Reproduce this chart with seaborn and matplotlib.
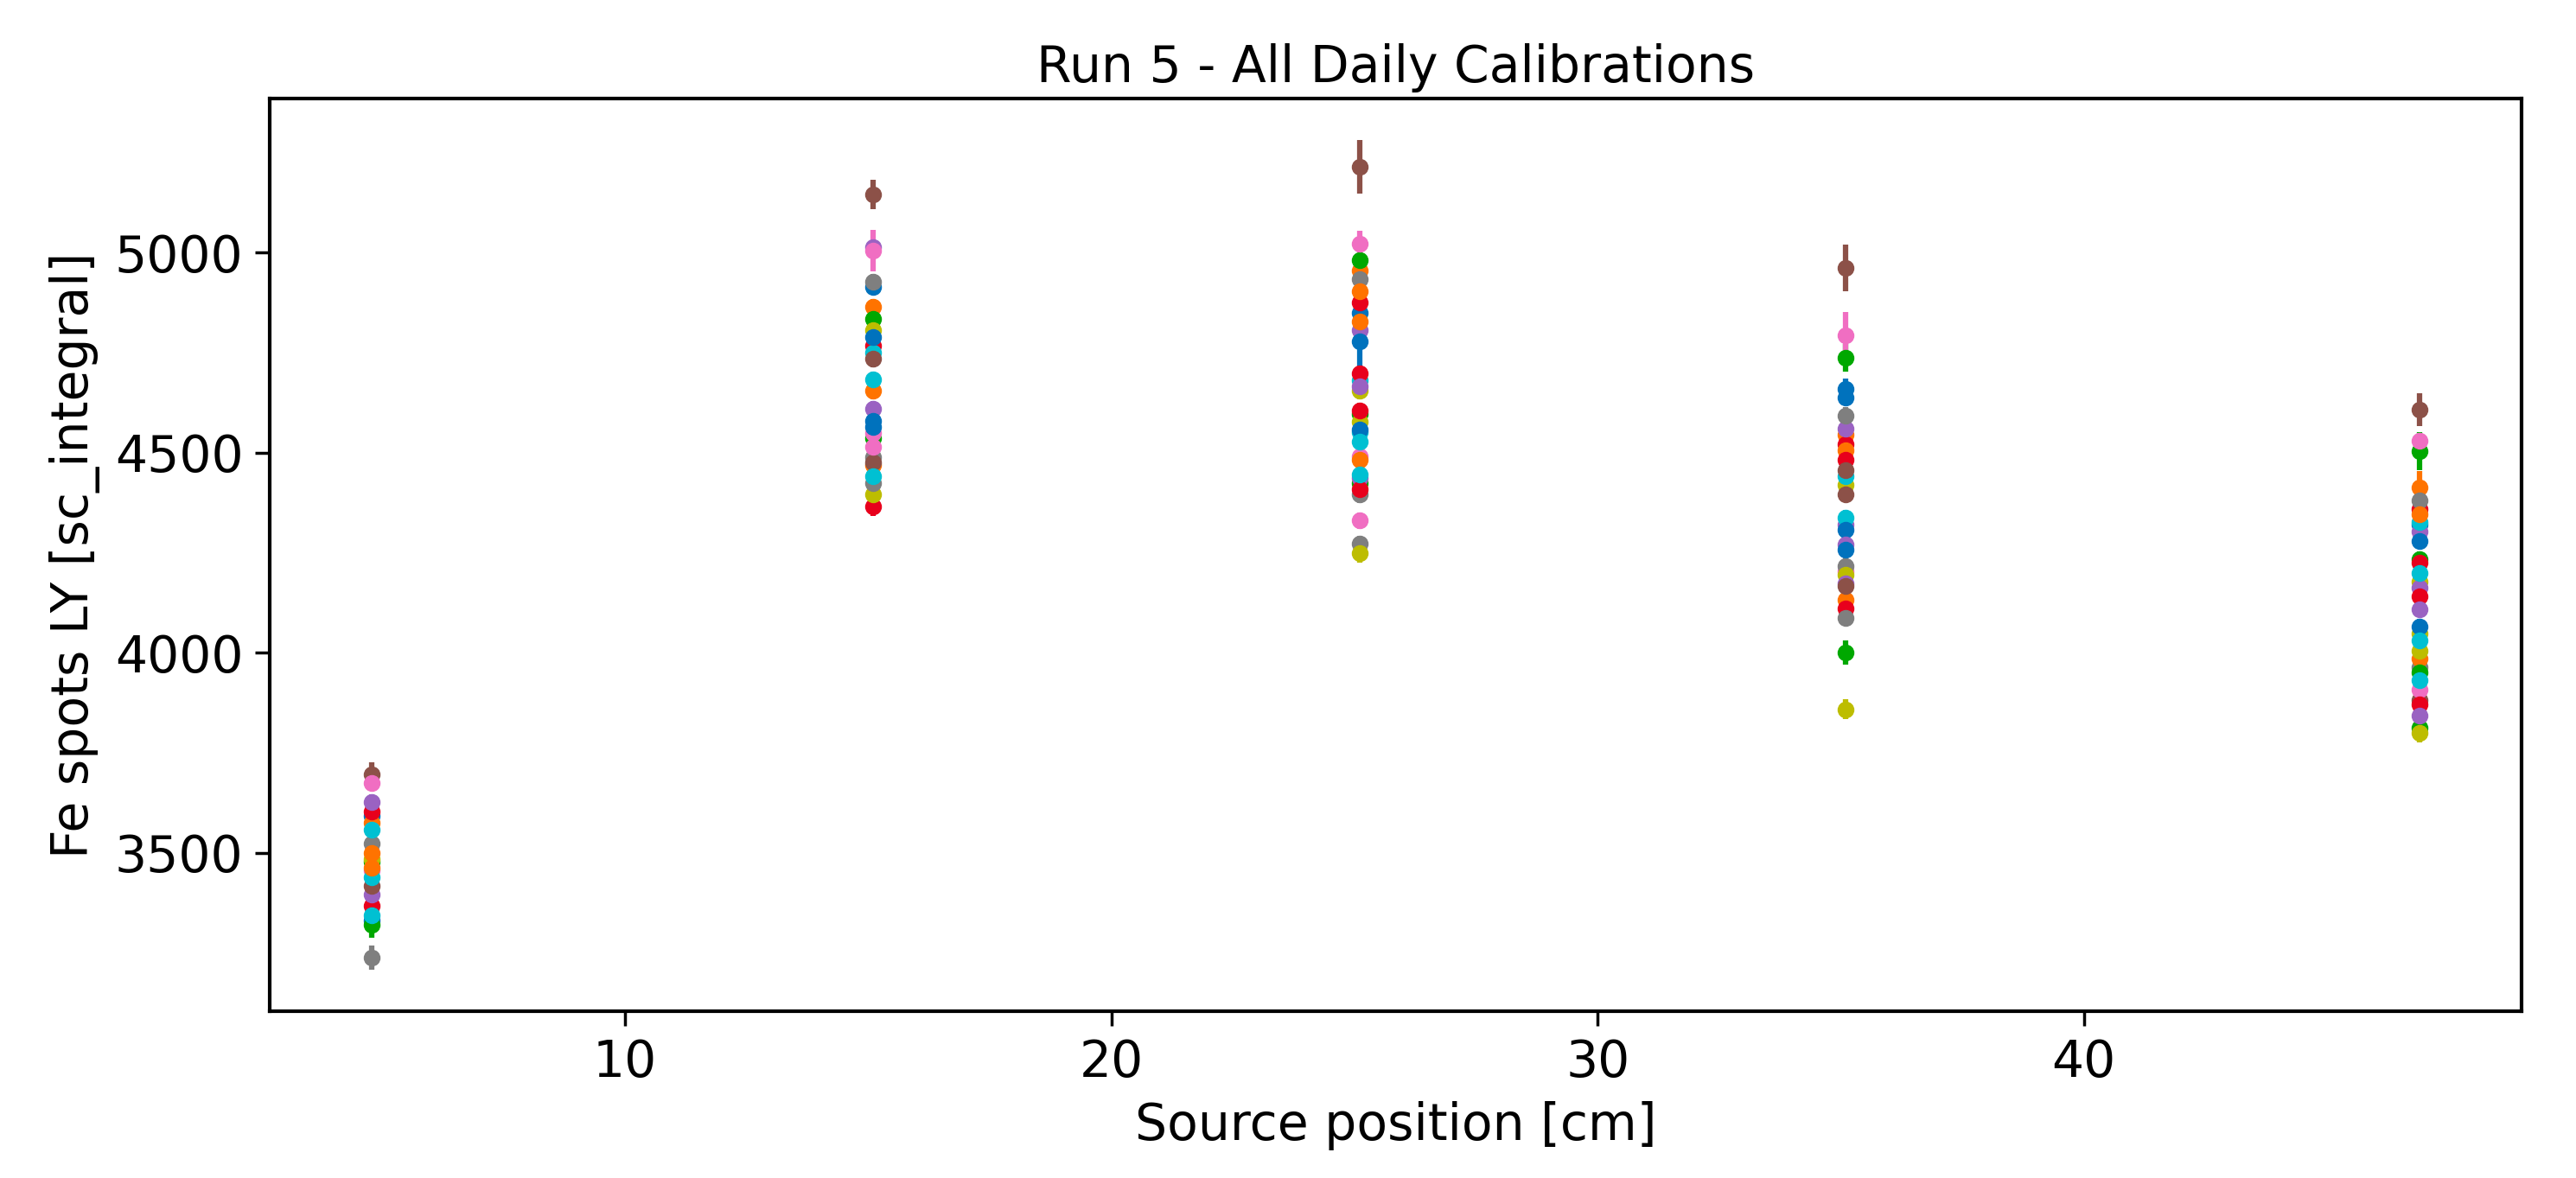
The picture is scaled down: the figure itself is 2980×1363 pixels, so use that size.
import pandas as pd
import matplotlib
matplotlib.use("Agg")
import matplotlib.pyplot as plt
import seaborn as sns

# source positions [cm]
pos_cm = [4.8, 15.1, 25.1, 35.1, 46.9]

# LY per calibration day at each position (day index -> colour in the cycle)
day_p1 = [5, 15, 6, 16, 4, 14, 3, 13, 0, 10, 1, 11, 21, 9, 19, 29, 7, 17, 8, 2, 12]
ly_p1 = [3695, 3417, 3674, 3456, 3627, 3395, 3604, 3368, 3593, 3331, 3574, 3499, 3463,
         3557, 3438, 3343, 3524, 3238, 3484, 3477, 3320]
err_p1 = [32, 20, 20, 20, 20, 20, 20, 20, 20, 20, 20, 20, 20,
          20, 20, 20, 20, 30, 20, 20, 32]

day_p2 = [5, 15, 25, 4, 14, 6, 16, 26, 7, 17, 27, 0, 10, 20, 30, 1, 11, 21, 2, 12, 8, 18,
          3, 13, 9, 19, 29]
ly_p2 = [5145, 4734, 4476, 5013, 4609, 5004, 4548, 4514, 4926, 4489, 4424, 4914, 4788,
         4580, 4565, 4864, 4654, 4470, 4835, 4535, 4806, 4395, 4768, 4366, 4749, 4682, 4442]
err_p2 = [36, 20, 20, 20, 20, 52, 20, 20, 20, 20, 20, 20, 20,
          20, 20, 20, 20, 20, 20, 20, 20, 20, 20, 25, 20, 20, 20]

day_p3 = [5, 6, 16, 26, 2, 12, 22, 1, 11, 21, 31, 7, 17, 27, 3, 13, 23, 33, 0, 10, 20,
          4, 14, 24, 9, 19, 29, 39, 8, 18, 28]
ly_p3 = [5214, 5022, 4491, 4330, 4981, 4597, 4424, 4955, 4902, 4828, 4481, 4934, 4395,
         4273, 4874, 4698, 4604, 4409, 4849, 4777, 4557, 4806, 4665, 4436, 4681, 4550,
         4528, 4446, 4654, 4576, 4249]
err_p3 = [67, 32, 20, 20, 20, 20, 20, 20, 20, 20, 20, 20, 20,
          20, 20, 20, 20, 20, 20, 70, 20, 20, 20, 20, 20, 20,
          20, 20, 20, 20, 25]

day_p4 = [5, 15, 25, 35, 6, 16, 2, 12, 0, 10, 20, 30, 7, 17, 27, 4, 14, 24, 34,
          1, 11, 21, 3, 13, 23, 9, 19, 8, 18, 28]
ly_p4 = [4961, 4456, 4396, 4166, 4792, 4204, 4737, 4000, 4658, 4638, 4308, 4257, 4593,
         4217, 4087, 4560, 4320, 4270, 4174, 4544, 4505, 4132, 4520, 4483, 4111, 4440,
         4337, 4420, 4194, 3859]
err_p4 = [58, 20, 20, 20, 59, 20, 35, 30, 27, 20, 20, 20, 20,
          20, 20, 20, 20, 20, 20, 20, 20, 20, 20, 20, 20, 20,
          20, 20, 20, 25]

day_p5 = [5, 15, 6, 16, 2, 12, 22, 32, 1, 11, 21, 7, 17, 3, 13, 23, 33, 9, 19, 29, 39,
          0, 10, 20, 4, 14, 24, 34, 8, 18, 28, 38]
ly_p5 = [4607, 3882, 4529, 3907, 4504, 4234, 3950, 3812, 4412, 4345, 3986, 4381, 3964,
         4358, 4226, 4140, 3871, 4327, 4199, 4031, 3932, 4320, 4280, 4065, 4302, 4162,
         4108, 3842, 4178, 4047, 4005, 3800]
err_p5 = [41, 20, 20, 20, 47, 20, 20, 20, 41, 20, 20, 20, 20,
          20, 20, 20, 20, 20, 20, 20, 20, 20, 20, 20, 20, 20,
          20, 20, 20, 20, 20, 25]

# long table: one row per (day, position)
rows = []
for x, days, ly, err in zip(pos_cm,
                            [day_p1, day_p2, day_p3, day_p4, day_p5],
                            [ly_p1, ly_p2, ly_p3, ly_p4, ly_p5],
                            [err_p1, err_p2, err_p3, err_p4, err_p5]):
    for d, v, e in zip(days, ly, err):
        rows.append({"day": d, "pos": x, "ly": v, "err": e})
df = pd.DataFrame(rows)

sns.set_style("ticks")
plt.rcParams["font.family"] = ["DejaVu Sans"]
plt.rcParams["text.color"] = "black"
plt.rcParams["axes.labelcolor"] = "black"
plt.rcParams["xtick.color"] = "black"
plt.rcParams["ytick.color"] = "black"
pal = sns.color_palette(["#0072BD", "#FF7300", "#00A800", "#E8001C", "#9A62C2",
                         "#8C5148", "#F06EC2", "#7F7F7F", "#BDBD00", "#00C0D2"])

fig = plt.figure(figsize=(29.8, 13.63), dpi=100)
ax = fig.add_axes([0.1047, 0.1416, 0.8743, 0.7748])

# one errorbar series per calibration day, colours cycling like the default cycle
for d in sorted(df["day"].unique()):
    sub = df[df["day"] == d]
    ax.errorbar(sub["pos"], sub["ly"], yerr=sub["err"], fmt="o", color=pal[d % 10],
                markersize=13, elinewidth=4.5, capsize=0)

ax.set_title("Run 5 - All Daily Calibrations", fontsize=42, pad=14, color="black")
ax.set_xlabel("Source position [cm]", fontsize=42, labelpad=12)
ax.set_ylabel("Fe spots LY [sc_integral]", fontsize=42, labelpad=12)
ax.set_xticks([10, 20, 30, 40])
ax.set_yticks([3500, 4000, 4500, 5000])
ax.tick_params(labelsize=42, length=12, width=2.5, colors="black", pad=10)
for s in ax.spines.values():
    s.set_linewidth(3)
    s.set_color("black")

fig.savefig("out.png", dpi=100, facecolor="white")
